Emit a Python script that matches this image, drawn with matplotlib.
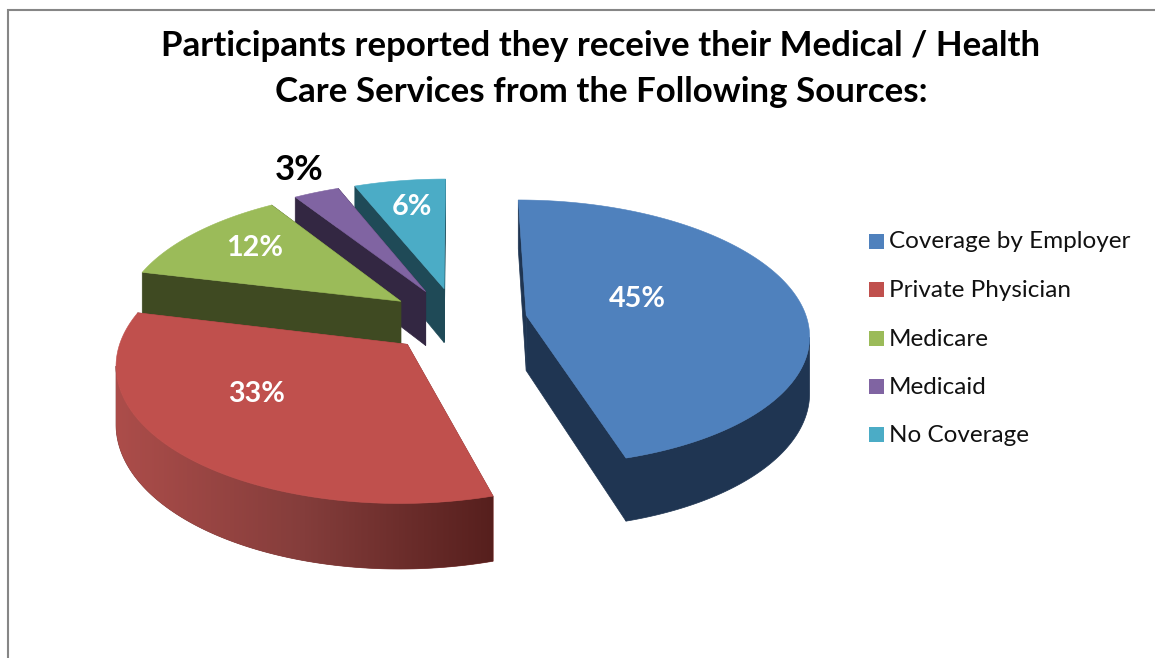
import numpy as np
import matplotlib
matplotlib.use("Agg")
import matplotlib.pyplot as plt
from matplotlib.patches import Polygon, Rectangle
from matplotlib.colors import LinearSegmentedColormap

categories = ["Coverage by Employer", "Private Physician", "Medicare", "Medicaid", "No Coverage"]
values = [45, 33, 12, 3, 6]
labels = ["45%", "33%", "12%", "3%", "6%"]
top_colors = ["#4F81BD", "#C0504D", "#9BBB59", "#8064A2", "#4BACC6"]
wall_colors = ["#1F3552", "#7F3735", "#3F4A22", "#332742", "#1F4A57"]
label_pos = [(637, 299), (257, 394), (255, 248), (299, 170), (412, 207)]
label_col = ["white", "white", "white", "black", "white"]
label_size = [20.7, 20.7, 20.7, 25, 20.7]
title_lines = ["Participants reported they receive their Medical / Health",
               "Care Services from the Following Sources:"]

CX, CY, A, B, K, DEPTH, EXPLODE = 457, 320, 281, 131.5, 0.13, 55.5, 0.25


def project(u, v, h=0.0):
    s = 1 / (1 - K * v)
    return CX + A * u * s, CY + (B * v + DEPTH * h) * s


plt.rcParams["font.family"] = ["Lato", "DejaVu Sans"]
fig = plt.figure(figsize=(11.55, 6.58), dpi=100)
ax = fig.add_axes([0, 0, 1, 1])
ax.axis("off")

ax.plot([8, 8, 1155], [658, 10, 10], color="#868686", lw=1.5, solid_joinstyle="miter")

fractions = np.array(values, float) / sum(values)
edges = np.concatenate([[0], np.cumsum(fractions)]) * 2 * np.pi
red_wall = LinearSegmentedColormap.from_list("red_wall", ["#AC4D4A", "#843D3B", "#561F1D"])

for i in [4, 3, 2, 1, 0]:
    t0, t1 = edges[i], edges[i + 1]
    mid = (t0 + t1) / 2
    uc, vc = EXPLODE * np.sin(mid), -EXPLODE * np.cos(mid)
    th = np.linspace(t0, t1, 241)
    ur, vr = uc + np.sin(th), vc - np.cos(th)
    base = (4 - i) * 3
    # radial walls
    for t in (t0, t1):
        e = (uc + np.sin(t), vc - np.cos(t))
        pts = [project(uc, vc), project(*e), project(*e, 1), project(uc, vc, 1)]
        ax.add_patch(Polygon(pts, closed=True, fc=wall_colors[i], ec=wall_colors[i], lw=0.5, zorder=1 + base))
    # outer wall: from the rightmost projected point of the arc to the leftmost one after it
    arc = np.array([project(a, b) for a, b in zip(ur, vr)])
    i_right = int(np.argmax(arc[:, 0]))
    i_left = i_right + int(np.argmin(arc[i_right:, 0]))
    if i_right < i_left:
        keep = range(i_right, i_left + 1)
        upper = [project(ur[j], vr[j]) for j in keep]
        lower = [project(ur[j], vr[j], 1) for j in keep]
        wall = Polygon(upper + lower[::-1], closed=True, fc=wall_colors[i], ec=wall_colors[i], lw=0.5, zorder=2 + base)
        ax.add_patch(wall)
        if i == 1:
            xs = [p[0] for p in upper]
            ys = [p[1] for p in upper + lower]
            grad = ax.imshow(np.linspace(0, 1, 256)[None, :], cmap=red_wall, aspect="auto",
                             extent=(min(xs), max(xs), max(ys), min(ys)), zorder=2.5 + base)
            grad.set_clip_path(wall)
    # top face
    pts = [project(uc, vc)] + [project(a, b) for a, b in zip(ur, vr)]
    ax.add_patch(Polygon(pts, closed=True, fc=top_colors[i], ec=top_colors[i], lw=0.4, zorder=3 + base))

ax.set_xlim(0, 1155)
ax.set_ylim(658, 0)

for lab, (x, y), c, fs in zip(labels, label_pos, label_col, label_size):
    ax.text(x, y, lab, color=c, fontsize=fs, fontweight="bold", ha="center", va="center", zorder=30)

for line, y in zip(title_lines, (46, 92)):
    ax.text(601, y, line, fontsize=25.1, fontweight="bold", color="black", ha="center", va="center", zorder=30)

legend_y = [241, 289.5, 338, 386, 434]
for name, c, y in zip(categories, top_colors, legend_y):
    ax.add_patch(Rectangle((868.5, y - 7.5), 15, 15, fc=c, ec="none", zorder=30))
    ax.text(889, y + 1, name, fontsize=17.5, color="#111111", ha="left", va="center", zorder=30)

fig.savefig("out.png", dpi=100)
